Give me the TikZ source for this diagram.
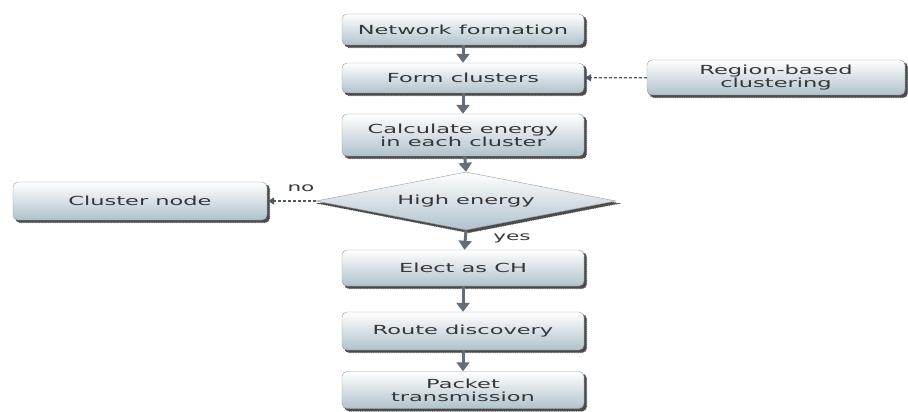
\documentclass[tikz,border=0pt]{standalone}
\usepackage{fontspec}
\setmainfont{DejaVu Sans}[FakeStretch=1.8]
\usetikzlibrary{shapes.geometric,arrows.meta,backgrounds}
\definecolor{boxbot}{RGB}{176,194,204}
\definecolor{boxline}{RGB}{150,155,160}
\definecolor{arrowc}{RGB}{100,110,120}
\definecolor{shad}{RGB}{75,75,75}
\definecolor{txt}{RGB}{55,55,55}
\newcommand\myboxshadow[1]{\fill[shadst, rounded corners=5pt] ([shift={(2.5pt,-2.5pt)}]#1.south west) rectangle ([shift={(2.5pt,-2.5pt)}]#1.north east);}
\begin{document}
\begin{tikzpicture}[x=1pt,y=-1pt,
  every node/.style={font=\fontsize{12.5}{13}\selectfont, text=txt},
  shadst/.style={fill=shad, draw=shad, densely dotted, line width=0.8pt},
  boxst/.style={draw=boxline, rounded corners=5pt, top color=white, bottom color=boxbot,
    minimum width=242pt, inner sep=1pt, align=center},
  decst/.style={draw=boxline, diamond, top color=white, bottom color=boxbot,
    minimum width=300pt, minimum height=58pt, inner sep=0pt, shape aspect=5.2},
  flow/.style={draw=arrowc, line width=3pt, -{Triangle[width=13pt,length=9pt]}},
  side/.style={draw=arrowc!80!black, densely dashed, line width=1.2pt, -{Latex[width=8pt,length=7pt]}},
  lab/.style={font=\fontsize{12}{13}\selectfont, text=txt}
]
\useasboundingbox (0,0) rectangle (908,412);
\node[boxst, minimum height=31pt] (net) at (463,29.5) {Network formation};
\node[boxst, minimum height=30pt] (form) at (463,78) {Form clusters};
\node[boxst, minimum height=42pt] (calc) at (463,135) {Calculate energy\\in each cluster};
\node[decst] (dec) at (466,201) {High energy};
\node[boxst, minimum height=36pt] (elect) at (463,268) {Elect as CH};
\node[boxst, minimum height=38pt] (route) at (463,331) {Route discovery};
\node[boxst, minimum height=37pt] (pack) at (463,390) {Packet\\transmission};
\node[boxst, minimum width=258pt, minimum height=35pt] (region) at (776,77.5) {Region-based\\clustering};
\node[boxst, minimum width=254pt, minimum height=38pt] (cnode) at (140,201) {Cluster node};

\begin{scope}[on background layer]
\myboxshadow{net}
\myboxshadow{form}
\myboxshadow{calc}
\myboxshadow{elect}
\myboxshadow{route}
\myboxshadow{pack}
\myboxshadow{region}
\myboxshadow{cnode}
\fill[shadst] ([shift={(2.5pt,-2.5pt)}]dec.north) -- ([shift={(2.5pt,-2.5pt)}]dec.east) -- ([shift={(2.5pt,-2.5pt)}]dec.south) -- ([shift={(2.5pt,-2.5pt)}]dec.west) -- cycle;
\end{scope}

\draw[flow] (net) -- (form);
\draw[flow] (form) -- (calc);
\draw[flow] (calc) -- (dec.north);
\draw[flow] (dec.south) -- (elect);
\draw[flow] (elect) -- (route);
\draw[flow] (route) -- (pack);
\draw[side] (region) -- (form);
\draw[side] (dec.west) -- (cnode);
\node[lab] (no) at (301,188) {no};
\node[lab] (yes) at (512,238) {yes};
\end{tikzpicture}
\end{document}
